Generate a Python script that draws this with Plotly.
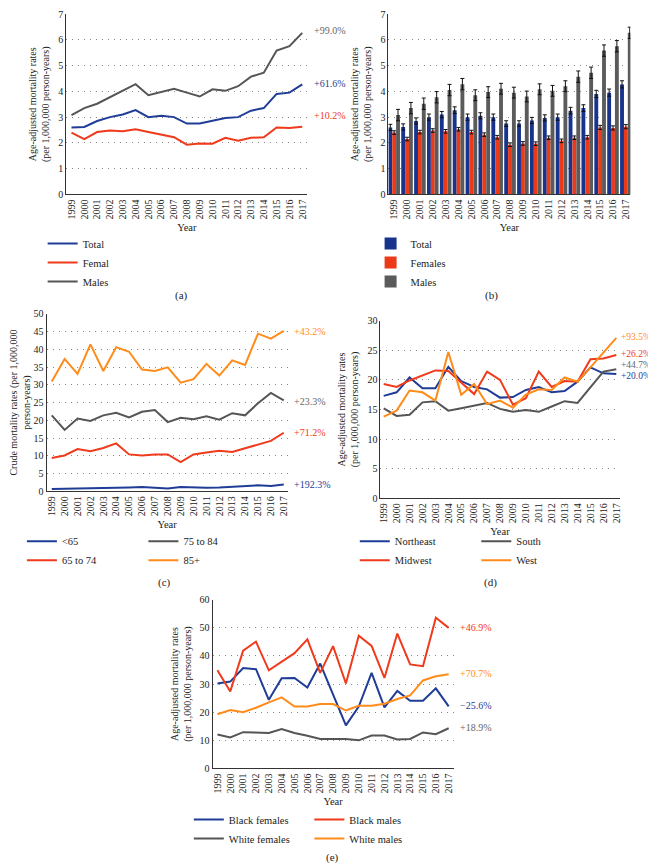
import plotly.graph_objects as go

years = [str(y) for y in range(1999, 2018)]

# Panel (a)/(b): age-adjusted mortality rates
total = [2.60, 2.62, 2.85, 3.00, 3.10, 3.27, 3.00, 3.05, 3.00, 2.75, 2.75, 2.87, 2.97, 3.00, 3.25, 3.35, 3.90, 3.95, 4.27]
females = [2.40, 2.15, 2.42, 2.48, 2.45, 2.53, 2.42, 2.32, 2.22, 1.93, 1.98, 1.97, 2.20, 2.08, 2.20, 2.22, 2.60, 2.58, 2.63]
males = [3.08, 3.35, 3.52, 3.77, 4.05, 4.28, 3.85, 3.97, 4.10, 3.95, 3.80, 4.08, 4.02, 4.20, 4.57, 4.72, 5.58, 5.75, 6.27]
total_err = [0.12, 0.12, 0.12, 0.12, 0.12, 0.13, 0.12, 0.12, 0.12, 0.11, 0.11, 0.12, 0.12, 0.12, 0.13, 0.13, 0.14, 0.14, 0.14]
females_err = [0.07, 0.07, 0.07, 0.07, 0.07, 0.07, 0.07, 0.07, 0.07, 0.07, 0.07, 0.07, 0.07, 0.07, 0.07, 0.07, 0.08, 0.08, 0.08]
males_err = [0.22, 0.22, 0.22, 0.22, 0.22, 0.22, 0.21, 0.21, 0.21, 0.21, 0.21, 0.21, 0.21, 0.21, 0.22, 0.22, 0.22, 0.22, 0.22]

# Panel (c): crude mortality rates by age group
age_lt65 = [0.65, 0.7, 0.8, 0.9, 1.0, 1.0, 1.1, 1.2, 1.0, 0.8, 1.2, 1.0, 1.0, 1.1, 1.3, 1.4, 1.7, 1.5, 1.9]
age_65_74 = [9.4, 10.1, 11.9, 11.3, 12.2, 13.5, 10.4, 10.1, 10.4, 10.4, 8.2, 10.4, 10.9, 11.4, 11.1, 12.2, 13.1, 14.2, 16.5]
age_75_84 = [21.4, 17.3, 20.5, 19.8, 21.4, 22.1, 20.8, 22.4, 22.9, 19.5, 20.7, 20.3, 21.1, 20.2, 22.0, 21.4, 24.8, 27.7, 25.6]
age_85p = [30.9, 37.3, 33.1, 41.4, 33.9, 40.6, 39.3, 34.3, 33.9, 34.9, 30.6, 31.6, 35.9, 32.6, 36.9, 35.6, 44.4, 43.0, 45.2]

# Panel (d): by region
northeast = [17.3, 17.9, 20.4, 18.6, 18.6, 22.2, 19.8, 18.8, 18.4, 17.0, 17.1, 18.3, 18.8, 17.9, 18.1, 19.7, 22.1, 21.1, 21.0]
midwest = [19.3, 18.8, 19.9, 20.8, 21.6, 21.5, 19.6, 17.6, 21.4, 20.0, 15.8, 16.9, 21.4, 18.8, 19.8, 19.7, 23.5, 23.6, 24.2]
south = [15.2, 13.9, 14.1, 16.2, 16.4, 14.8, 15.2, 15.7, 16.1, 15.1, 14.6, 14.9, 14.6, 15.5, 16.4, 16.1, 18.8, 21.4, 21.8]
west = [13.8, 14.8, 18.2, 17.9, 16.5, 24.7, 17.5, 19.3, 15.9, 16.5, 15.3, 17.5, 18.4, 18.3, 20.4, 19.7, 22.1, 24.6, 27.1]

# Panel (e): by race and sex
black_females = [30.2, 30.9, 35.7, 35.3, 24.4, 32.1, 32.2, 28.8, 37.3, 26.0, 15.3, 22.0, 34.0, 21.7, 27.6, 24.1, 24.1, 28.5, 22.1]
black_males = [34.9, 27.4, 41.9, 45.1, 34.9, 38.1, 41.0, 45.9, 34.0, 43.5, 30.2, 47.2, 43.6, 32.2, 48.0, 37.0, 36.4, 53.6, 50.0]
white_females = [12.1, 11.0, 12.9, 12.7, 12.6, 14.0, 12.6, 11.6, 10.5, 10.5, 10.5, 10.0, 11.7, 11.7, 10.3, 10.5, 12.8, 12.2, 14.3]
white_males = [19.3, 20.8, 20.0, 21.6, 23.5, 25.3, 22.0, 22.0, 22.9, 22.9, 20.6, 22.3, 22.3, 23.0, 24.7, 26.0, 31.3, 32.8, 33.5]

BLUE = "#1f3d96"
RED = "#f03a1c"
GRAY = "#555555"
ORANGE = "#ff8c1a"
BAR_BLUE = "#17338c"
BAR_RED = "#ec3a18"
BAR_GRAY = "#5b5b5b"
FONT = "Liberation Serif, DejaVu Serif, serif"
W, H = 656, 868
OFF = 8  # page body margin offset

fig = go.Figure()

def line(x_ax, y_ax, y, name, color, legend):
    fig.add_trace(go.Scatter(x=years, y=y, name=name, mode="lines",
                             line=dict(color=color, width=2),
                             xaxis=x_ax, yaxis=y_ax, legend=legend))

# (a)
line("x", "y", total, "Total", BLUE, "legend")
line("x", "y", females, "Femal", RED, "legend")
line("x", "y", males, "Males", GRAY, "legend")

# (b)
for vals, errs, name, color in [(total, total_err, "Total", BAR_BLUE),
                                (females, females_err, "Females", BAR_RED),
                                (males, males_err, "Males", BAR_GRAY)]:
    fig.add_trace(go.Bar(x=years, y=vals, name=name, marker=dict(color=color, line=dict(width=0)),
                         error_y=dict(type="data", array=errs, color="#111", thickness=1, width=2),
                         xaxis="x2", yaxis="y2", legend="legend2"))

# (c)
line("x3", "y3", age_lt65, "<65", BLUE, "legend3")
line("x3", "y3", age_65_74, "65 to 74", RED, "legend3")
line("x3", "y3", age_75_84, "75 to 84", GRAY, "legend4")
line("x3", "y3", age_85p, "85+", ORANGE, "legend4")

# (d)
line("x4", "y4", northeast, "Northeast", BLUE, "legend5")
line("x4", "y4", midwest, "Midwest", RED, "legend5")
line("x4", "y4", south, "South", GRAY, "legend6")
line("x4", "y4", west, "West", ORANGE, "legend6")

# (e)
line("x5", "y5", black_females, "Black females", BLUE, "legend7")
line("x5", "y5", white_females, "White females", GRAY, "legend7")
line("x5", "y5", black_males, "Black males", RED, "legend8")
line("x5", "y5", white_males, "White males", ORANGE, "legend8")

def clamp(v):
    return max(0.0, min(1.0, v))

def px_x(p):
    return clamp((p - OFF) / W)

def px_y(p):
    return clamp(1 - (p - OFF) / H)

tickfont = dict(family=FONT, size=10, color="#222")
grid = dict(showgrid=True, gridcolor="#8a8a8a", gridwidth=1, griddash="1px,5px")

panels = {
    "1": ((61, 305), (8, 191), [-0.4, 18.4], [0, 7], 1,
          "Age-adjusted mortality rates<br>(per 1,000,000 person-years)"),
    "2": ((387, 632), (8, 191), [-0.45, 18.35], [0, 7], 1,
          "Age-adjusted mortality rates<br>(per 1,000,000 person-years)"),
    "3": ((41, 285), (312, 492), [-0.4, 18.3], [0, 50], 5,
          "Crude mortality rates (per 1,000,000<br>person-years)"),
    "4": ((379, 621), (319, 499), [-0.25, 18.25], [0, 30], 5,
          "Age-adjusted mortality rates<br>(per 1,000,000 person-years)"),
    "5": ((209, 453), (602, 773), [-0.38, 18.38], [0, 60], 10,
          "Age-adjusted mortality rates<br>(per 1,000,000 person-years)"),
}

layout = dict(width=W, height=H, margin=dict(l=0, r=0, t=0, b=0),
              paper_bgcolor="white", plot_bgcolor="white",
              barmode="group", bargap=0.1, bargroupgap=0.0,
              font=dict(family=FONT, size=10, color="#222"))

for k, (xd, yd, xr, yr, dt, ytitle) in panels.items():
    xa = "xaxis" if k == "1" else "xaxis" + k
    ya = "yaxis" if k == "1" else "yaxis" + k
    yref = "y" if k == "1" else "y" + k
    xref = "x" if k == "1" else "x" + k
    layout[xa] = dict(domain=[px_x(xd[0]), px_x(xd[1])], anchor=yref, type="category",
                      range=xr, tickangle=-90, tickfont=tickfont, showline=True,
                      linecolor="#333", linewidth=1, showgrid=False, ticks="",
                      title=dict(text="Year", font=dict(family=FONT, size=10.5), standoff=5))
    layout[ya] = dict(domain=[px_y(yd[1]), px_y(yd[0])], anchor=xref, range=yr,
                      dtick=dt, tick0=0, tickfont=tickfont, showline=True,
                      linecolor="#333", linewidth=1, zeroline=False, ticks="",
                      title=dict(text=ytitle, font=dict(family=FONT, size=10), standoff=6),
                      **grid)

def legend(xpx, ypx):
    return dict(x=px_x(xpx), y=px_y(ypx), xanchor="left", yanchor="top",
                bgcolor="rgba(0,0,0,0)", font=dict(family=FONT, size=10.5, color="#222"),
                itemwidth=30, tracegroupgap=0, orientation="v")

layout["legend"] = legend(37, 226)
layout["legend2"] = legend(369, 226)
layout["legend3"] = legend(16, 528)
layout["legend4"] = legend(139, 528)
layout["legend5"] = legend(353, 528)
layout["legend6"] = legend(476, 528)
layout["legend7"] = legend(185, 810)
layout["legend8"] = legend(307, 810)

fig.update_layout(**layout)

ann = []
def lab(text, xref, yref, yval, color, xd=1.02):
    ann.append(dict(text=text, xref=xref + " domain", yref=yref, x=xd, y=yval,
                    xanchor="left", yanchor="middle", showarrow=False,
                    font=dict(family=FONT, size=10, color=color)))

def lab_right(text, yref, yval, color):
    ann.append(dict(text=text, xref="paper", yref=yref, x=px_x(655), y=yval,
                    xanchor="right", yanchor="middle", showarrow=False,
                    font=dict(family=FONT, size=9.5, color=color)))

lab("+99.0%", "x", "y", 6.36, "#666666")
lab("+61.6%", "x", "y", 4.3, BLUE)
lab("+10.2%", "x", "y", 3.07, RED)
lab("+43.2%", "x3", "y3", 45.0, ORANGE)
lab("+23.3%", "x3", "y3", 25.3, "#666666")
lab("+71.2%", "x3", "y3", 16.7, RED)
lab("+192.3%", "x3", "y3", 1.9, BLUE)
lab_right("+93.5%", "y4", 27.3, ORANGE)
lab_right("+26.2%", "y4", 24.3, RED)
lab_right("+44.7%", "y4", 22.5, "#666666")
lab_right("+20.0%", "y4", 20.7, BLUE)
lab("+46.9%", "x5", "y5", 50.2, RED)
lab("+70.7%", "x5", "y5", 33.7, ORANGE)
lab("\u221225.6%", "x5", "y5", 22.5, BLUE)
lab("+18.9%", "x5", "y5", 14.7, "#666666")

for t, xp, yp in [("(a)", 178, 293), ("(b)", 491, 293), ("(c)", 160, 584),
                  ("(d)", 490, 584), ("(e)", 330, 863)]:
    ann.append(dict(text=t, xref="paper", yref="paper", x=px_x(xp), y=px_y(yp),
                    xanchor="center", yanchor="middle", showarrow=False,
                    font=dict(family=FONT, size=11, color="#222")))

fig.update_layout(annotations=ann)
fig.write_html("out.html")
